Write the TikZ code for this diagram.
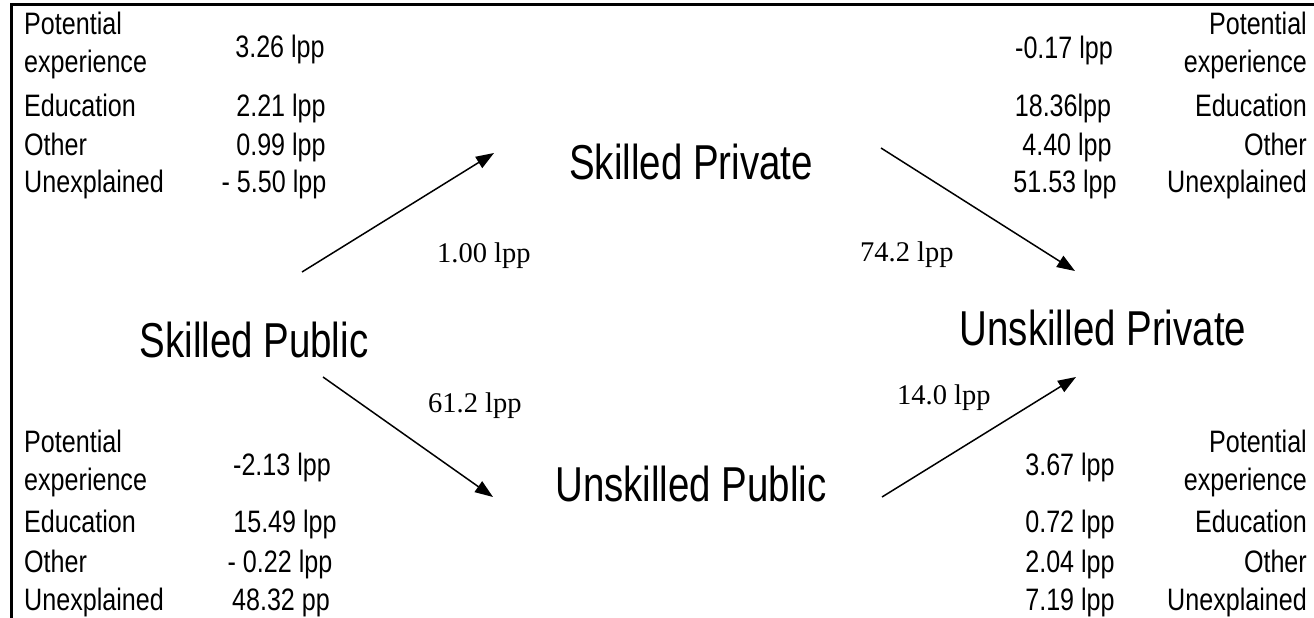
\documentclass[tikz,border=0pt]{standalone}
\usepackage{fontspec}
\setmainfont{Liberation Sans}
\newfontfamily\bigf[FakeStretch=0.785]{Liberation Sans}
\newfontfamily\smallf[FakeStretch=0.81]{Liberation Sans}
\newfontfamily\serf{Liberation Serif}
\usetikzlibrary{arrows.meta}
\begin{document}
\begin{tikzpicture}[x=1pt,y=-1pt,
  lab/.style={inner sep=0pt, font=\smallf\fontsize{31}{36}\selectfont},
  labl/.style={lab, anchor=base west},
  labr/.style={lab, anchor=base east},
  num/.style={lab, anchor=base},
  big/.style={inner sep=0pt, anchor=base, font=\bigf\fontsize{49}{58}\selectfont},
  val/.style={inner sep=0pt, anchor=base west, font=\serf\fontsize{28.5}{34}\selectfont},
  arr/.style={line width=1.5pt, -{Triangle[length=18pt,width=13pt]}},
  frame/.style={line width=3pt}]
\useasboundingbox (0,0) rectangle (1314,618);
% frame
\coordinate (fr) at (1314,5);
\coordinate (fc) at (11.5,5);
\coordinate (fb) at (11.5,618);
\draw[frame] (fr) -- (fc) -- (fb);

% main nodes
\node[big] (sp)  at (254,357) {Skilled Public};
\node[big] (spr) at (691,179) {Skilled Private};
\node[big] (upu) at (691,501) {Unskilled Public};
\node[big] (upr) at (1103,345) {Unskilled Private};

% arrow end points
\coordinate (a1s) at (302,272); \coordinate (a1e) at (494,153);
\coordinate (a2s) at (881,148); \coordinate (a2e) at (1075,271);
\coordinate (a3s) at (323,377); \coordinate (a3e) at (493,497);
\coordinate (a4s) at (882,497); \coordinate (a4e) at (1076,377);
\draw[arr] (a1s) -- (a1e);
\draw[arr] (a2s) -- (a2e);
\draw[arr] (a3s) -- (a3e);
\draw[arr] (a4s) -- (a4e);

% arrow values
\node[val] (v1) at (437,262) {1.00 lpp};
\node[val] (v2) at (860,261) {74.2 lpp};
\node[val] (v3) at (428,412) {61.2 lpp};
\node[val] (v4) at (897,404) {14.0 lpp};

% top-left block
\node[labl] (tl1a) at (24,35) {Potential};
\node[labl] (tl1b) at (24,73) {experience};
\node[labl] (tl2) at (24,116) {Education};
\node[labl] (tl3) at (24,155) {Other};
\node[labl] (tl4) at (24,192) {Unexplained};
\node[num] (tn1) at (280,58) {3.26 lpp};
\node[num] (tn2) at (281,116) {2.21 lpp};
\node[num] (tn3) at (281,155) {0.99 lpp};
\node[num] (tn4) at (274,192) {- 5.50 lpp};

% top-right block
\node[labr] (tr1a) at (1307,35) {Potential};
\node[labr] (tr1b) at (1307,73) {experience};
\node[labr] (tr2) at (1307,116) {Education};
\node[labr] (tr3) at (1307,155) {Other};
\node[labr] (tr4) at (1307,192) {Unexplained};
\node[num] (rn1) at (1064,59) {-0.17 lpp};
\node[num] (rn2) at (1063,116) {18.36lpp};
\node[num] (rn3) at (1067,155) {4.40 lpp};
\node[num] (rn4) at (1065,192) {51.53 lpp};

% bottom-left block
\node[labl] (bl1a) at (24,452) {Potential};
\node[labl] (bl1b) at (24,490) {experience};
\node[labl] (bl2) at (24,532) {Education};
\node[labl] (bl3) at (24,572) {Other};
\node[labl] (bl4) at (24,610) {Unexplained};
\node[num] (bn1) at (282,475) {-2.13 lpp};
\node[num] (bn2) at (285,532) {15.49 lpp};
\node[num] (bn3) at (280,572) {- 0.22 lpp};
\node[num] (bn4) at (281,610) {48.32 pp};

% bottom-right block
\node[labr] (br1a) at (1307,452) {Potential};
\node[labr] (br1b) at (1307,490) {experience};
\node[labr] (br2) at (1307,532) {Education};
\node[labr] (br3) at (1307,572) {Other};
\node[labr] (br4) at (1307,610) {Unexplained};
\node[num] (qn1) at (1070,475) {3.67 lpp};
\node[num] (qn2) at (1070,532) {0.72 lpp};
\node[num] (qn3) at (1070,572) {2.04 lpp};
\node[num] (qn4) at (1070,610) {7.19 lpp};
\end{tikzpicture}
\end{document}
